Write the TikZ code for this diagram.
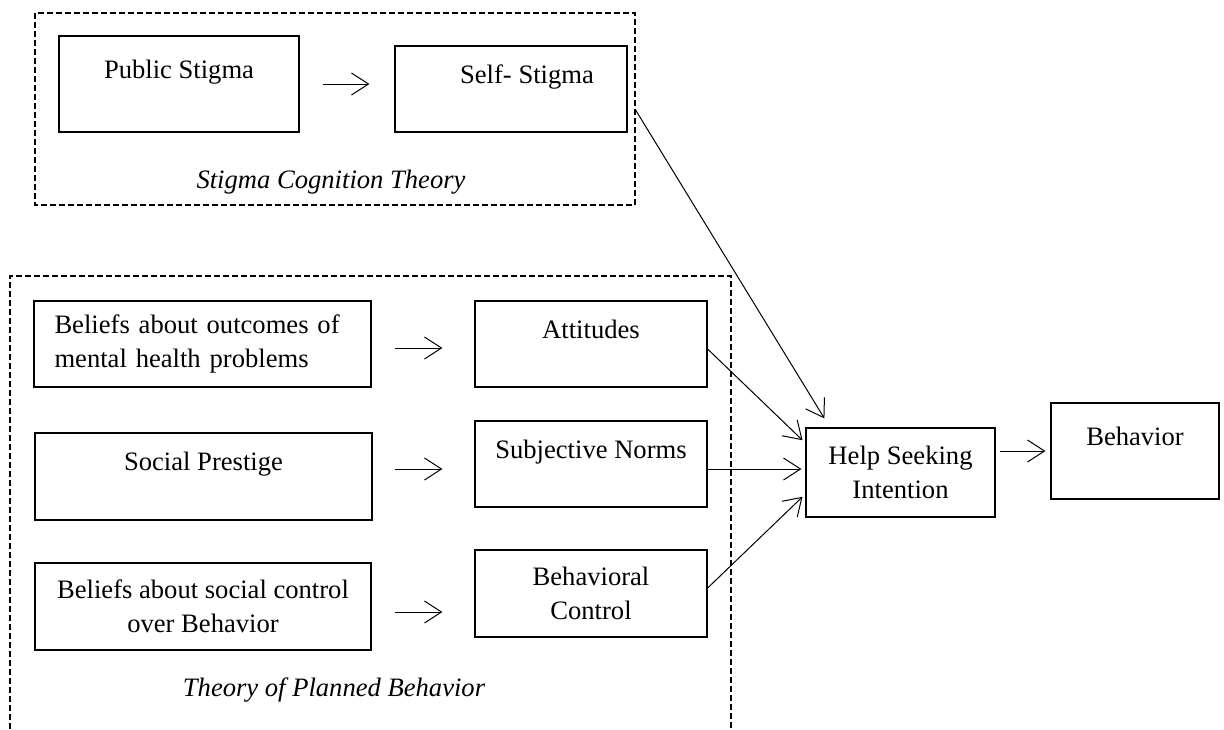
\documentclass[tikz,border=0pt]{standalone}
\usepackage{fontspec}
\setmainfont{Liberation Serif}
\usepackage{tikz}
\usetikzlibrary{arrows.meta}

\begin{document}
\begin{tikzpicture}[x=0.5pt, y=-0.5pt,
  font=\fontsize{13.3}{17}\selectfont,
  box/.style={draw, line width=0.6pt, inner sep=0pt},
  uptext/.style={text height=9pt, text depth=15pt},
  frame/.style={line width=0.9pt, dash pattern=on 3pt off 1.5pt},
  caption/.style={font=\fontsize{13.3}{17}\selectfont\itshape},
  arr/.style={-{Straight Barb[length=8.5pt, width=11pt]}, line width=0.5pt}]
  \useasboundingbox (0,0) rectangle (1224,729);
  \draw[frame] (35,13) rectangle (635,205);
  \draw[frame] (10,729) -- (10,276) -- (731,276) -- (731,729);
  \node[box, uptext, minimum width=120pt, minimum height=48pt] (pub) at (179,84) {Public Stigma};
  \node[box, uptext, minimum width=116pt, minimum height=43pt] (self) at (511,89) {\hspace*{16pt}Self- Stigma};
  \node[caption] (sct) at (331,182) {Stigma Cognition Theory};
  \node[box, text width=148pt, align=left, minimum width=168.5pt, minimum height=43pt] (outc) at (202.5,344) {Beliefs about outcomes of\\mental health problems};
  \node[box, uptext, minimum width=116pt, minimum height=43pt] (att) at (591,344) {Attitudes};
  \node[box, uptext, minimum width=168.5pt, minimum height=43.5pt] (pres) at (203.5,476.5) {Social Prestige};
  \node[box, uptext, minimum width=116pt, minimum height=43pt] (subj) at (591,464) {Subjective Norms};
  \node[box, align=center, minimum width=168pt, minimum height=43.5pt] (ctrlb) at (203,606.5) {Beliefs about social control\\over Behavior};
  \node[box, align=center, minimum width=116pt, minimum height=43.5pt] (bctl) at (591,593.5) {Behavioral\\Control};
  \node[caption] (tpb) at (334,690) {Theory of Planned Behavior};
  \node[box, align=center, minimum width=94.5pt, minimum height=44.5pt] (hsi) at (900.5,472.5) {Help Seeking\\Intention};
  \node[box, uptext, minimum width=84pt, minimum height=48pt] (beh) at (1135,451) {Behavior};
  \coordinate (sctout) at (635,109);
  \draw[arr, shorten <=11.5pt, shorten >=12.5pt] (pub.east) -- (pub.east -| self.west);
  \draw[arr, shorten <=11.5pt, shorten >=16pt] ([yshift=-2pt]outc.east) -- ([yshift=-2pt]outc.east -| att.west);
  \draw[arr, shorten <=11pt, shorten >=16pt] ([yshift=3.75pt]pres.east) -- ([yshift=3.75pt]pres.east -| subj.west);
  \draw[arr, shorten <=11.5pt, shorten >=16pt] ([yshift=-2.75pt]ctrlb.east) -- ([yshift=-2.75pt]ctrlb.east -| bctl.west);
  \draw[arr] (sctout) -- ([xshift=9.5pt, yshift=4.5pt]hsi.north west);
  \draw[arr, shorten >=2pt] ([yshift=-2.5pt]att.east) -- ([yshift=14.75pt]hsi.west);
  \draw[arr, shorten >=2pt] ([yshift=-2.5pt]subj.east) -- ([yshift=-2.5pt]subj.east -| hsi.west);
  \draw[arr, shorten >=2pt] ([yshift=2.75pt]bctl.east) -- ([yshift=-10.75pt]hsi.west);
  \draw[arr, shorten <=2pt, shorten >=2.5pt] (hsi.east |- beh.west) -- (beh.west);
\end{tikzpicture}
\end{document}
